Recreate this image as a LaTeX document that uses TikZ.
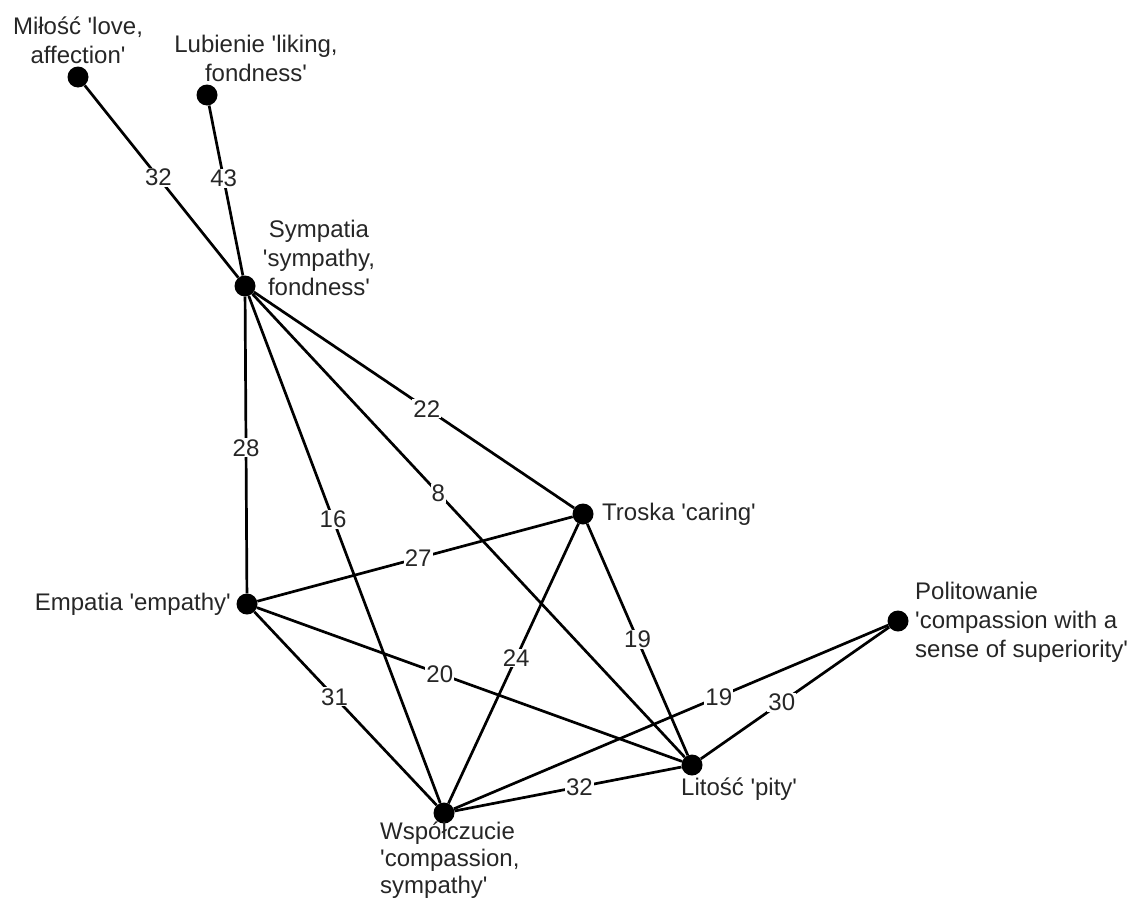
\documentclass[tikz,border=0pt]{standalone}
\usepackage{fontspec}
\setmainfont{Liberation Sans}[Ligatures=TeXOff]
\usepackage{tikz}

\begin{document}
\begin{tikzpicture}[x=1pt,y=-1pt,
	dot/.style={circle,fill=black,inner sep=0pt,minimum size=21pt},
	txt/.style={inner sep=2pt,font=\fontsize{24}{29}\selectfont,text=black!85},
	edge/.style={line width=2.7pt,black},
	num/.style={fill=white,inner sep=1pt,font=\fontsize{24}{29}\selectfont,text=black!85}]
	\useasboundingbox (0,0) rectangle (1135,902);

	% concepts
	\node [dot] (milosc) at (78,77) {};
	\node [dot] (lubienie) at (207,95) {};
	\node [dot] (sympatia) at (245,286) {};
	\node [dot] (troska) at (583,514) {};
	\node [dot] (empatia) at (247,604) {};
	\node [dot] (politowanie) at (898,621) {};
	\node [dot] (litosc) at (692,765) {};
	\node [dot] (wspol) at (444,813) {};

	\node [txt,align=center] (milosc-t) at (78,40) {Miłość 'love,\\affection'};
	\node [txt,align=center] (lubienie-t) at (256,58) {Lubienie 'liking,\\fondness'};
	\node [txt,align=center] (sympatia-t) at (319,258) {Sympatia\\'sympathy,\\fondness'};
	\node [txt,anchor=west] (troska-t) at (600,514) {Troska 'caring'};
	\node [txt,anchor=east] (empatia-t) at (233,604) {Empatia 'empathy'};
	\node [txt,anchor=west,align=left] (politowanie-t) at (913,622) {Politowanie\\'compassion with a\\sense of superiority'};
	\node [txt,anchor=west] (litosc-t) at (679,789) {Litość 'pity'};
	\node [txt,anchor=north west,align=left,font=\fontsize{24}{27}\selectfont] (wspol-t) at (378,820) {Współczucie\\'compassion,\\sympathy'};

	% links
	\draw [edge] (milosc) -- node [num,pos=0.48] {32} (sympatia);
	\draw [edge] (lubienie) -- node [num,pos=0.43] {43} (sympatia);
	\draw [edge] (sympatia) -- node [num,pos=0.51] {28} (empatia);
	\draw [edge] (sympatia) -- node [num,pos=0.44] {16} (wspol);
	\draw [edge] (sympatia) -- node [num,pos=0.43] {8} (litosc);
	\draw [edge] (sympatia) -- node [num,pos=0.54] {22} (troska);
	\draw [edge] (empatia) -- node [num,pos=0.51] {27} (troska);
	\draw [edge] (troska) -- node [num,pos=0.48] {24} (wspol);
	\draw [edge] (troska) -- node [num,pos=0.50] {19} (litosc);
	\draw [edge] (empatia) -- node [num,pos=0.43] {20} (litosc);
	\draw [edge] (empatia) -- node [num,pos=0.44] {31} (wspol);
	\draw [edge] (politowanie) -- node [num,pos=0.39] {19} (wspol);
	\draw [edge] (politowanie) -- node [num,pos=0.57] {30} (litosc);
	\draw [edge] (wspol) -- node [num,pos=0.55] {32} (litosc);
\end{tikzpicture}
\end{document}
